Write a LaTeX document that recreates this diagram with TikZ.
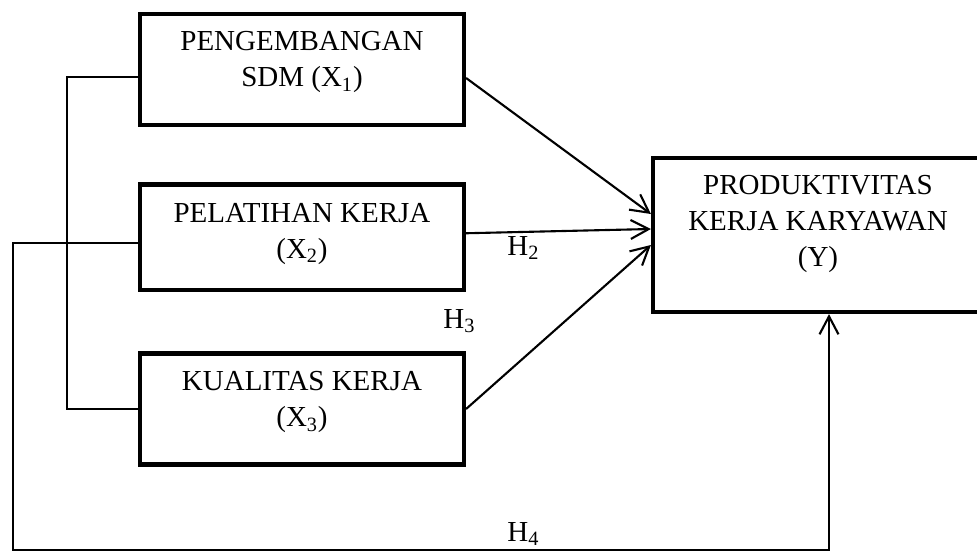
\documentclass[tikz,border=0pt]{standalone}
\usepackage{fontspec}
\setmainfont{Liberation Serif}
\usepackage{tikz}
\usetikzlibrary{arrows.meta}
\usetikzlibrary{calc}

\begin{document}
\begin{tikzpicture}[x=0.02cm, y=-0.02cm,
        varbox/.style={draw=black, line width=2.4pt, inner sep=0pt, minimum width=6.48cm},
        vartext/.style={align=center, anchor=north, inner sep=0pt, font=\fontsize{16.5}{20.5}\selectfont},
        hlabel/.style={anchor=base west, inner sep=0pt, font=\fontsize{16.5}{20}\selectfont},
        link/.style={line width=1.1pt},
        arrowline/.style={line width=1.2pt, -{Straight Barb[length=0.36cm, width=0.38cm]}}]
        \useasboundingbox (0,0) rectangle (977,551);
        % boxes
        \node[varbox, minimum height=2.22cm] (x1) at (302,69.5) {};
        \node[varbox, minimum height=2.11cm] (x2) at (302,237.25) {};
        \node[varbox, minimum height=2.22cm] (x3) at (302,409) {};
        \node[varbox, minimum width=6.6cm, minimum height=3.08cm] (y) at (818,235) {};
        \node[vartext] (x1text) at ($(x1.north)+(0,19)$) {PENGEMBANGAN\\SDM (X\textsubscript{1})};
        \node[vartext] (x2text) at ($(x2.north)+(0,20.5)$) {PELATIHAN KERJA\\(X\textsubscript{2})};
        \node[vartext] (x3text) at ($(x3.north)+(0,19.5)$) {KUALITAS KERJA\\(X\textsubscript{3})};
        \node[vartext] (ytext) at ($(y.north)+(0,19)$) {PRODUKTIVITAS\\KERJA KARYAWAN\\(Y)};
        % paths
        \draw[arrowline] ($(x1.east)+(0,8.5)$) -- ($(y.west)+(0,-21)$);
        \draw[arrowline] ($(x2.east)+(0,-4)$) -- ($(y.west)+(0,-6)$);
        \draw[arrowline] (x3.east) -- ($(y.west)+(0,10)$);
        \draw[link] ($(x1.west)+(0,7.5)$) -- ++(-71,0) |- (x3.west);
        \draw[arrowline] ($(x2.west)+(0,6)$) -| (13,550) -| ($(y.south)+(11,0)$);
        \node[hlabel] (h2) at (507,255) {H\textsubscript{2}};
        \node[hlabel] (h3) at (443,328) {H\textsubscript{3}};
        \node[hlabel] (h4) at (507,541) {H\textsubscript{4}};
        %\draw[dashed] (x2.east) -- (y.west);
\end{tikzpicture}
\end{document}
